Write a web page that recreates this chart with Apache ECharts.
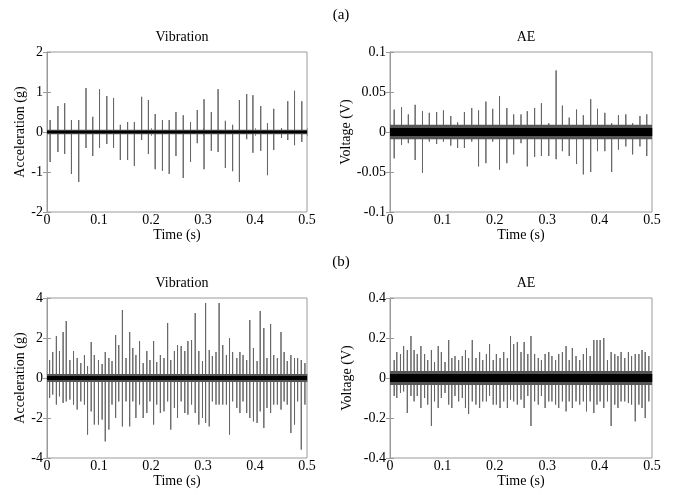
<!DOCTYPE html>
<html><head><meta charset="utf-8">
<script src="https://cdn.jsdelivr.net/npm/echarts@6/dist/echarts.min.js"></script>
<style>html,body{margin:0;padding:0;background:#fff}#c{width:676px;height:495px}</style>
</head><body><div id="c"></div>
<script>
// ---- data ----
const timeTicks = [0, 0.1, 0.2, 0.3, 0.4, 0.5];
const vibATicks = [-2, -1, 0, 1, 2];
const aeATicks = [-0.1, -0.05, 0, 0.05, 0.1];
const vibBTicks = [-4, -2, 0, 2, 4];
const aeBTicks = [-0.4, -0.2, 0, 0.2, 0.4];

// (a) Vibration: spike times (s), positive peaks and negative peaks (g)
const vibATime = [0.006,0.021,0.034,0.047,0.061,0.075,0.088,0.101,0.115,0.128,0.141,0.155,0.168,0.182,0.195,0.208,0.222,0.235,0.248,0.262,0.276,0.289,0.302,0.316,0.329,0.343,0.357,0.370,0.384,0.396,0.411,0.424,0.436,0.451,0.463,0.476,0.490];
const vibAPos = [0.3,0.65,0.72,0.3,0.3,1.1,0.38,1.07,0.9,0.85,0.18,0.25,0.25,0.88,0.8,0.45,0.3,0.3,0.5,0.42,0.25,0.55,0.82,0.5,1.07,0.28,0.18,0.8,0.95,0.92,0.65,0.22,0.58,0.1,0.77,1.03,0.77];
const vibANeg = [-0.75,-0.5,-0.55,-1.05,-1.25,-0.4,-0.6,-0.4,-0.3,-0.4,-0.7,-0.7,-0.85,-0.2,-0.55,-0.93,-0.97,-1.05,-0.6,-1.15,-0.75,-0.28,-0.93,-0.47,-0.5,-0.9,-0.98,-1.25,-0.18,-0.52,-0.47,-1.08,-0.45,-0.15,-0.2,-0.33,-0.25];
const vibANoise = [0.03, 0.055]; // inner / outer noise envelope (g)

// (a) AE (V)
const aeATime = [0.008,0.022,0.035,0.048,0.062,0.075,0.089,0.102,0.116,0.129,0.142,0.156,0.169,0.183,0.196,0.209,0.223,0.236,0.250,0.262,0.276,0.289,0.303,0.317,0.329,0.342,0.356,0.369,0.383,0.396,0.410,0.423,0.436,0.450,0.463,0.477,0.490];
const aeAPos = [0.028,0.031,0.022,0.034,0.026,0.024,0.025,0.027,0.02,0.012,0.025,0.03,0.027,0.038,0.029,0.045,0.03,0.022,0.022,0.026,0.03,0.036,0.011,0.077,0.033,0.018,0.028,0.021,0.041,0.029,0.024,0.011,0.021,0.022,0.011,0.02,0.022];
const aeANeg = [-0.033,-0.016,-0.014,-0.035,-0.051,-0.012,-0.015,-0.012,-0.017,-0.02,-0.02,-0.012,-0.043,-0.039,-0.012,-0.047,-0.039,-0.028,-0.014,-0.043,-0.031,-0.03,-0.03,-0.034,-0.024,-0.03,-0.04,-0.053,-0.05,-0.024,-0.024,-0.05,-0.022,-0.018,-0.028,-0.018,-0.03];
const aeANoise = [0.005, 0.009];

// (b) Vibration (g)
const vibBTime = [0.005,0.011,0.018,0.024,0.031,0.037,0.044,0.051,0.058,0.065,0.072,0.078,0.085,0.091,0.099,0.106,0.112,0.119,0.125,0.132,0.138,0.145,0.152,0.159,0.165,0.171,0.178,0.185,0.192,0.198,0.205,0.211,0.218,0.225,0.232,0.238,0.245,0.251,0.258,0.265,0.271,0.278,0.285,0.292,0.299,0.305,0.312,0.318,0.325,0.331,0.338,0.345,0.351,0.357,0.365,0.371,0.377,0.384,0.390,0.397,0.404,0.410,0.417,0.423,0.430,0.436,0.443,0.450,0.456,0.462,0.469,0.476,0.482,0.489,0.496];
const vibBPos = [0.9,1.3,2.1,1.35,2.3,2.85,0.9,1.35,1.0,0.75,1.15,0.6,1.8,1.15,0.9,0.7,1.3,1.0,0.85,2.15,1.65,3.4,1.0,2.3,1.5,1.15,1.85,0.75,1.35,0.9,1.85,0.8,1.15,1.0,2.75,0.9,1.35,1.65,1.6,1.35,1.85,1.9,3.25,1.35,0.85,3.75,1.4,1.1,1.3,3.75,1.65,1.15,2.0,1.3,1.0,1.3,1.15,0.9,2.9,1.5,0.85,3.35,2.5,1.0,2.7,1.15,1.0,2.3,1.3,0.85,1.15,1.0,1.0,0.9,0.75];
const vibBNeg = [-1.0,-0.83,-1.33,-0.92,-1.25,-1.17,-1.08,-1.33,-1.58,-1.17,-1.33,-2.83,-1.67,-2.33,-2.33,-2.08,-3.17,-2.58,-1.33,-2.0,-1.17,-2.42,-1.17,-2.42,-1.17,-2.0,-1.33,-2.0,-1.75,-1.17,-2.33,-1.33,-1.75,-1.67,-1.17,-2.58,-1.5,-2.0,-1.17,-1.75,-1.83,-1.33,-1.75,-2.33,-2.0,-2.25,-2.42,-1.17,-1.33,-1.33,-1.33,-1.33,-2.83,-1.17,-1.5,-1.75,-1.17,-1.75,-2.0,-2.17,-2.25,-1.67,-2.5,-1.5,-1.75,-1.33,-1.33,-1.58,-1.17,-1.33,-2.75,-2.33,-1.17,-3.58,-1.33];
const vibBNoise = [0.1, 0.2];

// (b) AE (V)
const aeBTime = [0.008,0.013,0.020,0.026,0.033,0.040,0.046,0.052,0.059,0.066,0.072,0.079,0.085,0.092,0.098,0.105,0.112,0.118,0.124,0.131,0.138,0.144,0.150,0.157,0.164,0.171,0.177,0.184,0.190,0.197,0.203,0.210,0.217,0.224,0.230,0.236,0.243,0.250,0.256,0.263,0.269,0.276,0.283,0.289,0.296,0.303,0.309,0.316,0.322,0.329,0.336,0.342,0.348,0.355,0.362,0.369,0.375,0.382,0.389,0.395,0.401,0.408,0.415,0.422,0.429,0.435,0.441,0.448,0.455,0.461,0.468,0.475,0.481,0.487,0.494];
const aeBPos = [0.09,0.13,0.12,0.16,0.14,0.21,0.14,0.12,0.16,0.12,0.09,0.14,0.08,0.16,0.13,0.08,0.19,0.1,0.11,0.09,0.11,0.14,0.1,0.19,0.1,0.13,0.09,0.12,0.17,0.09,0.12,0.1,0.13,0.1,0.21,0.17,0.18,0.13,0.18,0.12,0.21,0.12,0.1,0.09,0.12,0.13,0.11,0.09,0.12,0.13,0.16,0.09,0.15,0.11,0.09,0.12,0.15,0.11,0.19,0.19,0.19,0.2,0.09,0.13,0.12,0.11,0.13,0.1,0.13,0.11,0.12,0.12,0.14,0.13,0.11];
const aeBNeg = [-0.09,-0.1,-0.075,-0.067,-0.175,-0.09,-0.117,-0.09,-0.15,-0.1,-0.133,-0.24,-0.117,-0.15,-0.1,-0.075,-0.133,-0.15,-0.09,-0.117,-0.1,-0.15,-0.18,-0.117,-0.133,-0.15,-0.117,-0.117,-0.09,-0.133,-0.133,-0.15,-0.117,-0.15,-0.108,-0.117,-0.133,-0.108,-0.15,-0.09,-0.24,-0.117,-0.133,-0.09,-0.15,-0.117,-0.117,-0.133,-0.15,-0.117,-0.167,-0.117,-0.15,-0.117,-0.133,-0.117,-0.167,-0.117,-0.175,-0.133,-0.117,-0.15,-0.117,-0.24,-0.133,-0.15,-0.117,-0.117,-0.125,-0.133,-0.217,-0.133,-0.15,-0.2,-0.117];
const aeBNoise = [0.02, 0.035];

// ---- layout ----
const FONT = '"Liberation Serif", "Times New Roman", serif';
const panels = [
  {title:'Vibration', yName:'Acceleration (g)', gap:20, left:47, top:52, width:260, ticks:vibATicks, t:vibATime, p:vibAPos, n:vibANeg, noise:vibANoise},
  {title:'AE', yName:'Voltage (V)', gap:36, left:390, top:52, width:262, ticks:aeATicks, t:aeATime, p:aeAPos, n:aeANeg, noise:aeANoise},
  {title:'Vibration', yName:'Acceleration (g)', gap:20, left:47, top:298, width:260, ticks:vibBTicks, t:vibBTime, p:vibBPos, n:vibBNeg, noise:vibBNoise},
  {title:'AE', yName:'Voltage (V)', gap:36, left:390, top:298, width:262, ticks:aeBTicks, t:aeBTime, p:aeBPos, n:aeBNeg, noise:aeBNoise}
];
const H = 160;
const frame = '#9a9a9a';

const grid = [], xAxis = [], yAxis = [], series = [], title = [];
panels.forEach((pn, i) => {
  grid.push({left:pn.left, top:pn.top, width:pn.width, height:H, show:true, borderColor:frame, borderWidth:1, containLabel:false});
  const tMin = timeTicks[0], tMax = timeTicks[timeTicks.length-1], tInt = timeTicks[1]-timeTicks[0];
  const yMin = pn.ticks[0], yMax = pn.ticks[pn.ticks.length-1], yInt = pn.ticks[1]-pn.ticks[0];
  xAxis.push({gridIndex:i, type:'value', min:tMin, max:tMax, interval:tInt, position:'bottom',
    name:'Time (s)', nameLocation:'middle', nameGap:10,
    nameTextStyle:{fontFamily:FONT, fontSize:14, color:'#000'},
    axisLine:{show:true, lineStyle:{color:frame}}, axisTick:{inside:true, length:4, lineStyle:{color:frame}},
    axisLabel:{fontFamily:FONT, fontSize:14, color:'#000', margin:1}, splitLine:{show:false}});
  xAxis.push({gridIndex:i, type:'value', min:tMin, max:tMax, interval:tInt, position:'top',
    axisLine:{show:false}, axisTick:{inside:true, length:4, lineStyle:{color:frame}},
    axisLabel:{show:false}, splitLine:{show:false}});
  yAxis.push({gridIndex:i, type:'value', min:yMin, max:yMax, interval:yInt, position:'left',
    name:pn.yName, nameLocation:'middle', nameGap:pn.gap, nameRotate:90,
    nameTextStyle:{fontFamily:FONT, fontSize:14, color:'#000'},
    axisLine:{show:true, lineStyle:{color:frame}}, axisTick:{inside:true, length:4, lineStyle:{color:frame}},
    axisLabel:{fontFamily:FONT, fontSize:14, color:'#000', margin:4}, splitLine:{show:false}});
  yAxis.push({gridIndex:i, type:'value', min:yMin, max:yMax, interval:yInt, position:'right',
    axisLine:{show:false}, axisTick:{inside:true, length:4, lineStyle:{color:frame}},
    axisLabel:{show:false}, splitLine:{show:false}});
  title.push({text:pn.title, left:pn.left + pn.width/2, top:pn.top - 27, textAlign:'center',
    textStyle:{fontFamily:FONT, fontSize:14, fontWeight:'normal', color:'#000'}});
  const data = [];
  pn.t.forEach((tt, k) => {
    data.push([tt, 0], [tt, pn.p[k]], [tt, pn.n[k]], [tt, 0]);
  });
  series.push({type:'line', xAxisIndex:2*i, yAxisIndex:2*i, data, showSymbol:false, symbol:'none',
    animation:false, lineStyle:{color:'#666', width:1}, z:3,
    markArea:{silent:true, z:4, data:[
      [{xAxis:tMin, yAxis:-pn.noise[1], itemStyle:{color:'#555', opacity:1}}, {xAxis:tMax, yAxis:pn.noise[1]}],
      [{xAxis:tMin, yAxis:-pn.noise[0], itemStyle:{color:'#000', opacity:1}}, {xAxis:tMax, yAxis:pn.noise[0]}]
    ]}});
});
title.push({text:'(a)', left:336, top:3, textAlign:'center', textStyle:{fontFamily:FONT, fontSize:15, fontWeight:'normal', color:'#000'}});
title.push({text:'(b)', left:336, top:250, textAlign:'center', textStyle:{fontFamily:FONT, fontSize:15, fontWeight:'normal', color:'#000'}});

const chart = echarts.init(document.getElementById('c'), null, {renderer:'canvas'});
chart.setOption({animation:false, backgroundColor:'#fff', title, grid, xAxis, yAxis, series});
</script>
</body></html>
